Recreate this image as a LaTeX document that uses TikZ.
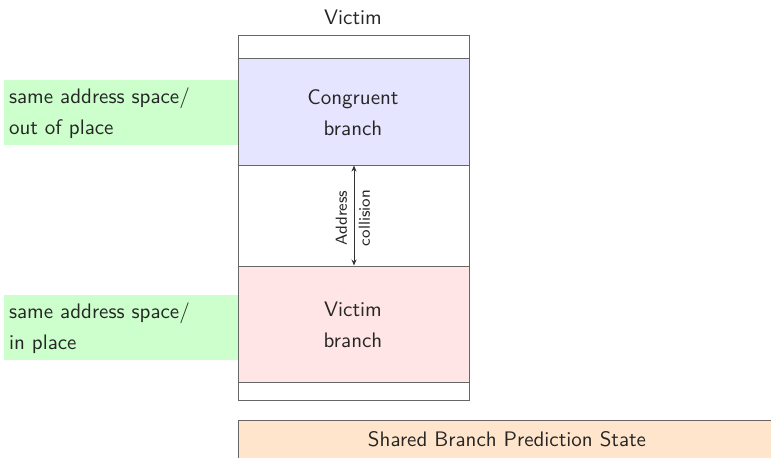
\documentclass[tikz,border=0pt]{standalone}
\usetikzlibrary{fit,arrows.meta}
\begin{document}
\begin{tikzpicture}[x=0.5pt,y=-0.5pt,
  every node/.style={font=\sffamily\fontsize{10.5}{12.6}\selectfont, text=black!85},
  frame/.style={draw=black!60, line width=0.5pt, inner sep=0pt},
  lab/.style={align=center},
  sidelab/.style={align=left, anchor=west}]
\useasboundingbox (0,0) rectangle (771,457);
\clip (0,0) rectangle (771,457);
\node[frame, fill=orange!20, fit={(238,420)(790,470)}] (shared) {};
\node at (507,439) (sharedlab) {Shared Branch Prediction State};
\node[frame, fit={(238,35)(469,400)}] (outer) {};
\node[frame, fill=blue!10, fit={(238,58)(469,165)}] (cong) {};
\node[frame, fill=red!10, fit={(238,266)(469,382)}] (vict) {};
\node[lab] at (353,113) (conglab) {Congruent\\[3pt]branch};
\node[lab] at (353,325) (victlab) {Victim\\[3pt]branch};
\node at (353,17) (title) {Victim};
\node[fill=green!20, inner sep=0pt, fit={(4,80)(238,145)}] (g1) {};
\node[sidelab] at (2,113) (g1lab) {same address space/\\[3pt]out of place};
\node[fill=green!20, inner sep=0pt, fit={(4,295)(238,360)}] (g2) {};
\node[sidelab] at (2,328) (g2lab) {same address space/\\[3pt]in place};
\draw[black!80, line width=0.5pt, {Stealth[length=3pt,width=2.5pt]}-{Stealth[length=3pt,width=2.5pt]}] (cong.south -| 354,0) coordinate (a1) -- (vict.north -| 354,0) coordinate (a2);
\node[lab, rotate=90, font=\sffamily\footnotesize] at (353,218) (coll) {Address\\[2pt]collision};
\end{tikzpicture}
\end{document}
